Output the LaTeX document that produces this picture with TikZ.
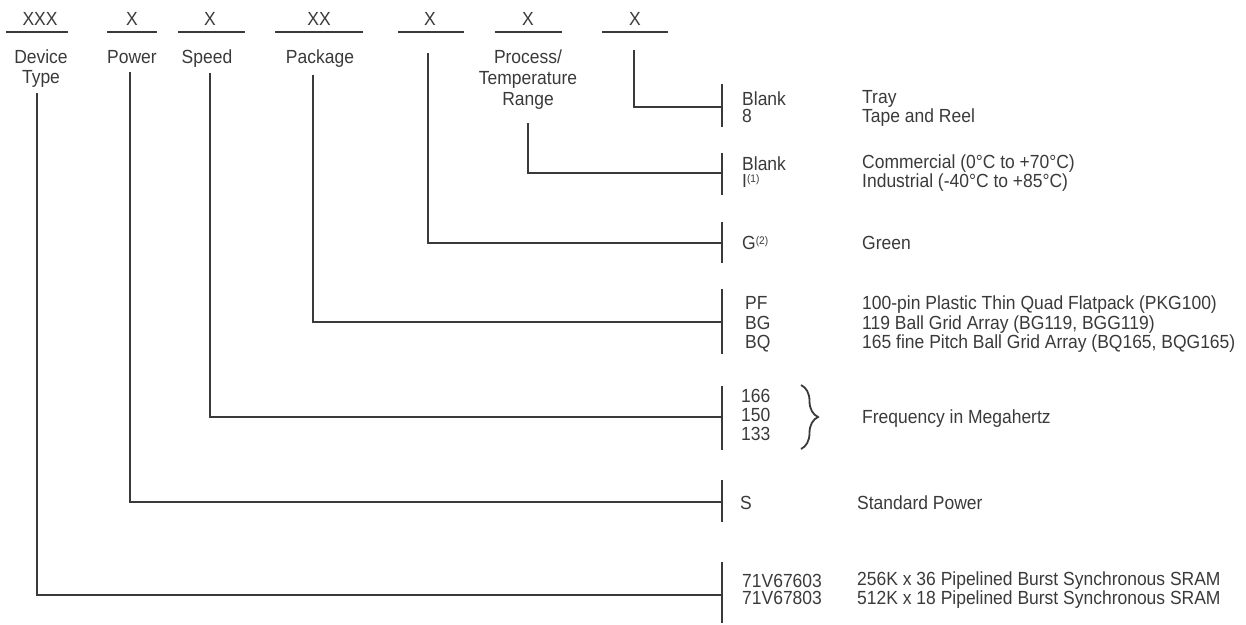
\documentclass[tikz,border=0pt]{standalone}
\usepackage{fontspec}
\setmainfont[FakeStretch=0.92]{Liberation Sans}
\usetikzlibrary{decorations.pathreplacing}
\definecolor{ink}{RGB}{58,58,58}
\newcommand{\fnote}[1]{\raisebox{0.26em}{\fontsize{11}{11}\selectfont(#1)}}
\begin{document}
\begin{tikzpicture}[x=1pt, y=-1pt,
  field/.style={inner sep=0, anchor=base, text=ink, font=\fontsize{19}{20}\selectfont},
  lbl/.style={inner sep=0, anchor=base, align=center, text=ink, font=\fontsize{19}{20.5}\selectfont},
  code/.style={inner sep=0, anchor=base west, align=left, text=ink, font=\fontsize{19}{17}\selectfont},
  link/.style={draw=ink, line width=2}]
\useasboundingbox (0,0) rectangle (1246,624);
\node[field] (fdev) at (40,25){XXX};
\node[field] (fpow) at (132,25){X};
\node[field] (fspd) at (210,25){X};
\node[field] (fpkg) at (319,25){XX};
\node[field] (fgrn) at (430,25){X};
\node[field] (ftmp) at (528,25){X};
\node[field] (fpak) at (635,25){X};
\draw[link](6,32) -- (68,32);
\draw[link](107,32) -- (157,32);
\draw[link](178,32) -- (245,32);
\draw[link](275,32) -- (363,32);
\draw[link](398,32) -- (464,32);
\draw[link](495,32) -- (562,32);
\draw[link](602,32) -- (668,32);
\node[lbl] (ldev) at (41,83.5){Device\\Type};
\node[lbl] (lpow) at (132,63){Power};
\node[lbl] (lspd) at (207,63){Speed};
\node[lbl] (lpkg) at (320,63){Package};
\node[lbl, font=\fontsize{19}{21}\selectfont] (ltmp) at (528,105){Process/\\Temperature\\Range};
\coordinate (tdev) at (37,93);
\coordinate (tpow) at (130,72);
\coordinate (tspd) at (210,73);
\coordinate (tpkg) at (313,75);
\coordinate (tgrn) at (428,53);
\coordinate (ttmp) at (528,123);
\coordinate (tpak) at (634,50);
\coordinate (jdev) at (722,595);
\coordinate (jpow) at (722,502);
\coordinate (jspd) at (722,417);
\coordinate (jpkg) at (722,322);
\coordinate (jgrn) at (722,243);
\coordinate (jtmp) at (722,173);
\coordinate (jpak) at (722,107);
\draw[link](tdev) |- (jdev);
\draw[link](tpow) |- (jpow);
\draw[link](tspd) |- (jspd);
\draw[link](tpkg) |- (jpkg);
\draw[link](tgrn) |- (jgrn);
\draw[link](ttmp) |- (jtmp);
\draw[link](tpak) |- (jpak);
\draw[link](722,84) -- (722,127);
\draw[link](722,153) -- (722,195);
\draw[link](722,222) -- (722,263);
\draw[link](722,289) -- (722,354);
\draw[link](722,386) -- (722,450);
\draw[link](722,480) -- (722,522);
\draw[link](722,562) -- (722,623);
\node[code] (cpak) at (742,122.5){Blank\\8};
\node[code] (dpak) at (862,122.5){Tray\\Tape and Reel};
\node[code] (ctmp) at (742,187.5){Blank\\I\fnote{1}};
\node[code] (dtmp) at (862,187.5){Commercial (0°C to +70°C)\\Industrial (-40°C to +85°C)};
\node[code] (cgrn) at (742,249){G\fnote{2}};
\node[code] (dgrn) at (862,249){Green};
\node[code, font=\fontsize{19}{19.5}\selectfont] (cpkg) at (745,348.5){PF\\BG\\BQ};
\node[code, font=\fontsize{19}{19.5}\selectfont] (dpkg) at (862,348.5){100-pin Plastic Thin Quad Flatpack (PKG100)\\119 Ball Grid Array (BG119, BGG119)\\165 fine Pitch Ball Grid Array (BQ165, BQG165)};
\node[code, font=\fontsize{19}{19}\selectfont] (cspd) at (741,440.5){166\\150\\133};
\draw[link, line width=1.8, decorate, decoration={brace, amplitude=17}](801,385) -- (801,449);
\node[code] (dspd) at (862,423){Frequency in Megahertz};
\node[code] (cpow) at (740,509){S};
\node[code] (dpow) at (857,509){Standard Power};
\node[code, font=\fontsize{19}{16.7}\selectfont] (cdev) at (742,604.2){71V67603\\71V67803};
\node[code, font=\fontsize{19}{16.7}\selectfont] (ddev) at (857,604.2){256K x 36 Pipelined Burst Synchronous SRAM\\512K x 18 Pipelined Burst Synchronous SRAM};
\end{tikzpicture}
\end{document}
